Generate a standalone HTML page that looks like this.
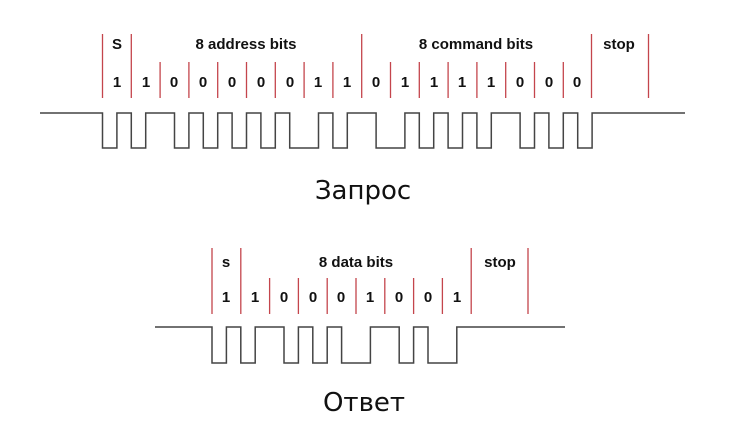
<!DOCTYPE html>
<html><head><meta charset="utf-8"><style>
html,body{margin:0;padding:0;background:#fff;}
svg{display:block;}
.b{font-family:"Liberation Sans",Arial,sans-serif;font-weight:bold;font-size:15px;fill:#111;text-anchor:middle;}
.t{font-family:"DejaVu Sans","Liberation Sans",sans-serif;font-size:26px;fill:#111;text-anchor:middle;}
.r{stroke:#c4454c;stroke-width:1.3;}
.w{fill:none;stroke:#444;stroke-width:1.5;}
</style></head><body>
<svg width="733" height="437" viewBox="0 0 733 437" xmlns="http://www.w3.org/2000/svg">
<g class="r">
<line x1="102.5" y1="34" x2="102.5" y2="98"/>
<line x1="131.3" y1="34" x2="131.3" y2="98"/>
<line x1="361.7" y1="34" x2="361.7" y2="98"/>
<line x1="591.5" y1="34" x2="591.5" y2="98"/>
<line x1="648.5" y1="34" x2="648.5" y2="98"/>
<line x1="160.1" y1="62" x2="160.1" y2="98"/>
<line x1="188.9" y1="62" x2="188.9" y2="98"/>
<line x1="217.7" y1="62" x2="217.7" y2="98"/>
<line x1="246.5" y1="62" x2="246.5" y2="98"/>
<line x1="275.3" y1="62" x2="275.3" y2="98"/>
<line x1="304.1" y1="62" x2="304.1" y2="98"/>
<line x1="332.9" y1="62" x2="332.9" y2="98"/>
<line x1="390.5" y1="62" x2="390.5" y2="98"/>
<line x1="419.3" y1="62" x2="419.3" y2="98"/>
<line x1="448.1" y1="62" x2="448.1" y2="98"/>
<line x1="476.9" y1="62" x2="476.9" y2="98"/>
<line x1="505.7" y1="62" x2="505.7" y2="98"/>
<line x1="534.5" y1="62" x2="534.5" y2="98"/>
<line x1="563.3" y1="62" x2="563.3" y2="98"/>

<line x1="212" y1="248" x2="212" y2="314"/>
<line x1="240.8" y1="248" x2="240.8" y2="314"/>
<line x1="471.2" y1="248" x2="471.2" y2="314"/>
<line x1="528" y1="248" x2="528" y2="314"/>
<line x1="269.6" y1="278" x2="269.6" y2="314"/>
<line x1="298.4" y1="278" x2="298.4" y2="314"/>
<line x1="327.2" y1="278" x2="327.2" y2="314"/>
<line x1="356" y1="278" x2="356" y2="314"/>
<line x1="384.8" y1="278" x2="384.8" y2="314"/>
<line x1="413.6" y1="278" x2="413.6" y2="314"/>
<line x1="442.4" y1="278" x2="442.4" y2="314"/>
</g>
<text class="b" x="117" y="49">S</text>
<text class="b" x="246" y="49">8 address bits</text>
<text class="b" x="476" y="49">8 command bits</text>
<text class="b" x="619" y="49">stop</text>
<g class="b">
<text x="117" y="87">1</text><text x="146" y="87">1</text><text x="174" y="87">0</text><text x="203" y="87">0</text><text x="232" y="87">0</text><text x="261" y="87">0</text><text x="290" y="87">0</text><text x="318" y="87">1</text><text x="347" y="87">1</text>
<text x="376" y="87">0</text><text x="405" y="87">1</text><text x="434" y="87">1</text><text x="462" y="87">1</text><text x="491" y="87">1</text><text x="520" y="87">0</text><text x="549" y="87">0</text><text x="577" y="87">0</text>
</g>
<path class="w" d="M40 113 H102.5 V148 H116.9 V113 H131.3 V148 H145.7 V113 H174.5 V148 H188.9 V113 H203.3 V148 H217.7 V113 H232.1 V148 H246.5 V113 H260.9 V148 H275.3 V113 H289.7 V148 H318.5 V113 H332.9 V148 H347.3 V113 H376.1 V148 H404.9 V113 H419.3 V148 H433.7 V113 H448.1 V148 H462.5 V113 H476.9 V148 H491.3 V113 H520.1 V148 H534.5 V113 H548.9 V148 H563.3 V113 H577.7 V148 H592.1 V113 H685"/>
<text class="t" x="363" y="199">Запрос</text>

<text class="b" x="226" y="267">s</text>
<text class="b" x="356" y="267">8 data bits</text>
<text class="b" x="500" y="267">stop</text>
<g class="b">
<text x="226" y="302">1</text><text x="255" y="302">1</text><text x="284" y="302">0</text><text x="313" y="302">0</text><text x="341" y="302">0</text><text x="370" y="302">1</text><text x="399" y="302">0</text><text x="428" y="302">0</text><text x="457" y="302">1</text>
</g>
<path class="w" d="M155 327 H212 V363 H226.4 V327 H240.8 V363 H255.2 V327 H284 V363 H298.4 V327 H312.8 V363 H327.2 V327 H341.6 V363 H370.4 V327 H399.2 V363 H413.6 V327 H428 V363 H456.8 V327 H565"/>
<text class="t" x="364" y="411">Ответ</text>
</svg>
</body></html>
